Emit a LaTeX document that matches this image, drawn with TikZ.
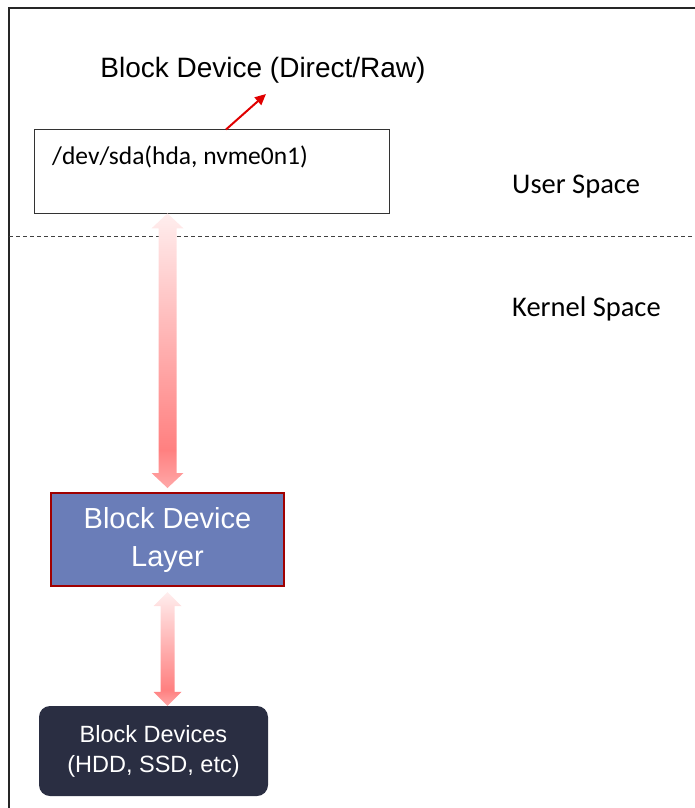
\documentclass[tikz,border=0pt]{standalone}
\usepackage{fontspec}
\setmainfont{Liberation Sans}
\newfontfamily\calibri{Carlito}
\usetikzlibrary{arrows.meta,calc}

\definecolor{layerblue}{HTML}{6A7DB8}
\definecolor{layerrim}{HTML}{A00000}
\definecolor{devnavy}{HTML}{2A2E42}
\definecolor{rawred}{HTML}{E00000}
\definecolor{pinkA}{HTML}{FFA8A8}
\definecolor{pinkB}{HTML}{FF8080}
\definecolor{pinkC}{HTML}{FFEEEE}

% light at the top, strongest just above the lower head
\pgfdeclareverticalshading{linkshade}{100bp}{color(0bp)=(pinkA); color(25bp)=(pinkA);
  color(32bp)=(pinkB); color(75bp)=(pinkC); color(100bp)=(pinkC)}

\tikzset{
  frameline/.style={line width=1.6pt, black!85},
  devbox/.style={draw=black!80, line width=0.8pt, minimum width=355pt, minimum height=84pt, inner sep=0pt},
  layerbox/.style={draw=layerrim, fill=layerblue, line width=2pt, minimum width=233pt, minimum height=93pt,
    text=white, align=center, font=\fontsize{29}{38}\selectfont, inner sep=0pt},
  hwbox/.style={fill=devnavy, rounded corners=11pt, minimum width=229pt, minimum height=90pt,
    text=white, align=center, font=\fontsize{23.5}{30}\selectfont, inner sep=0pt},
  spacelabel/.style={anchor=west, font=\calibri\fontsize{28.5}{32}\selectfont, inner sep=0pt},
}

\begin{document}
\begin{tikzpicture}[x=1pt, y=-1pt]
  \useasboundingbox (0,0) rectangle (695,808);

  % outer frame (open to the right and bottom)
  \draw[frameline] (9,808) -- (9,8) -- (695,8);

  % user / kernel boundary
  \draw[black!75, line width=0.9pt, dash pattern=on 4pt off 3pt] (9,236) -- (695,236);

  \node[spacelabel] (user) at (512,187) {User Space};
  \node[spacelabel] (kern) at (512,309) {Kernel Space};

  \node[font=\fontsize{28}{32}\selectfont, inner sep=0pt] (raw) at (263,70) {Block Device (Direct/Raw)};

  \node[devbox] (dev) at (211.5,171) {};
  \node[anchor=west, font=\calibri\fontsize{25.5}{28}\selectfont, inner sep=0pt] (devname) at (52,157) {/dev/sda(hda, nvme0n1)};

  \node[layerbox] (bdl) at (167.5,539.5) {Block Device\\Layer};
  \node[hwbox] (bd) at (153.5,751) {Block Devices\\(HDD, SSD, etc)};

  % red pointer from the device file to its label
  \coordinate (rawfoot) at (226,129.5);
  \coordinate (rawtip) at (266,94);
  \draw[rawred, line width=2pt, -{Triangle[length=11pt, width=10pt]}] (rawfoot) -- (rawtip);

  % double-headed links between the layers
  \path[shading=linkshade] let \p1=(dev.south), \p2=(bdl.north) in
    (\x2,\y1) -- (\x2+16pt,\y1-15pt) -- (\x2+9pt,\y1-15pt) -- (\x2+9pt,\y2+19pt) -- (\x2+16pt,\y2+19pt)
    -- (\x2,\y2+4pt) -- (\x2-16pt,\y2+19pt) -- (\x2-9pt,\y2+19pt) -- (\x2-9pt,\y1-15pt)
    -- (\x2-16pt,\y1-15pt) -- cycle;
  \path[shading=linkshade] let \p1=(bdl.south), \p2=(bd.north) in
    (\x1,\y1-5pt) -- (\x1+14pt,\y1-19pt) -- (\x1+7pt,\y1-19pt) -- (\x1+7pt,\y2+14pt) -- (\x1+14pt,\y2+14pt)
    -- (\x1,\y2) -- (\x1-14pt,\y2+14pt) -- (\x1-7pt,\y2+14pt) -- (\x1-7pt,\y1-19pt)
    -- (\x1-14pt,\y1-19pt) -- cycle;
\end{tikzpicture}
\end{document}
